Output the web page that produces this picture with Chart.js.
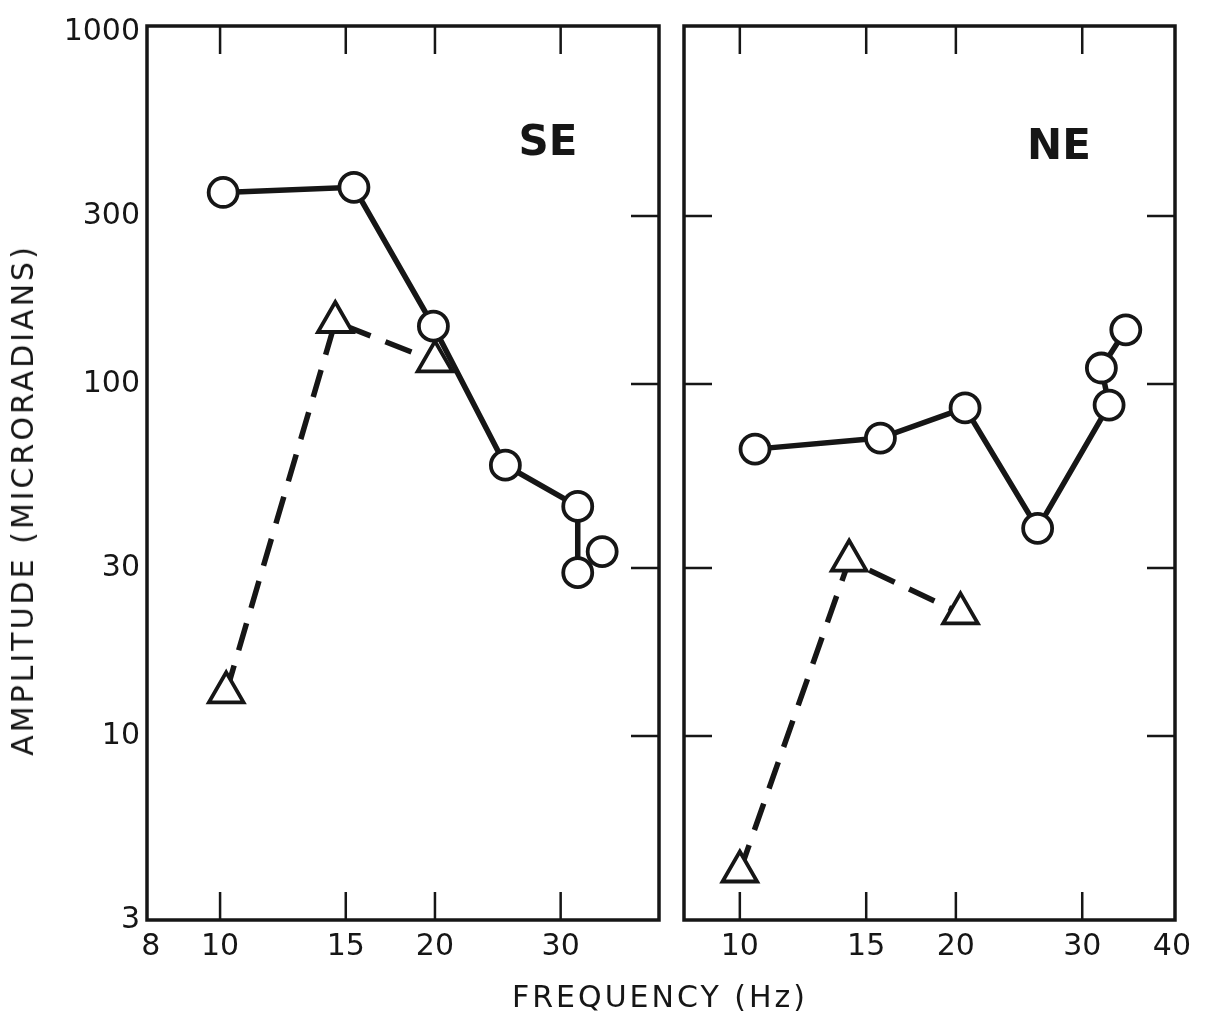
<!DOCTYPE html>
<html>
<head>
<meta charset="utf-8">
<script src="https://cdn.jsdelivr.net/npm/chart.js@4/dist/chart.umd.min.js"></script>
<style>
  body { margin: 0; background: #fff; width: 1209px; height: 1015px; position: relative; overflow: hidden; }
  #left { position: absolute; left: 0; top: 0; }
  #right { position: absolute; left: 670px; top: 0; }
  #ytitle {
    position: absolute; left: 23px; top: 500px; white-space: nowrap;
    transform: translate(-50%, -50%) rotate(-90deg);
    font: 30px "DejaVu Sans"; letter-spacing: 3px; color: #161616; line-height: 30px;
  }
  #xtitle {
    position: absolute; left: 460px; width: 400px; top: 982px; text-align: center;
    font: 30px "DejaVu Sans"; letter-spacing: 3px; color: #161616; line-height: 30px;
  }
</style>
</head>
<body>
<canvas id="left" width="670" height="1015"></canvas>
<canvas id="right" width="539" height="1015"></canvas>
<div id="ytitle">AMPLITUDE (MICRORADIANS)</div>
<div id="xtitle">FREQUENCY (Hz)</div>
<script>
// axis ticks
const yTicks = [3, 10, 30, 100, 300, 1000];
const xTicksSE = [8, 10, 15, 20, 30];
const xTicksNE = [10, 15, 20, 30, 40];
const xMarks = [10, 15, 20, 30];
const yMarks = [10, 30, 100, 300];

// SE panel
const seCircleFreq = [10.1, 15.4, 19.9, 25.1, 31.7, 31.7];
const seCircleAmp = [350, 362, 146, 58.8, 44.9, 29.1];
const seExtraFreq = [34.3];
const seExtraAmp = [33.4];
const seTriFreq = [10.2, 14.5, 20.0];
const seTriAmp = [13.3, 150, 116];

// NE panel
const neCircleFreq = [10.5, 15.7, 20.6, 26.0, 32.7, 31.9, 34.5];
const neCircleAmp = [65.3, 70.2, 85.5, 38.9, 87.1, 111, 142.5];
const neTriFreq = [10.0, 14.2, 20.3];
const neTriAmp = [4.12, 31.5, 22.3];

const ink = '#161616';
const tickFont = { family: 'DejaVu Sans', size: 30 };

const pts = (xs, ys) => xs.map((x, i) => ({ x, y: ys[i] }));

const circles = (data, line = true) => ({
    data,
    showLine: line,
    borderColor: ink,
    borderWidth: 5.5,
    pointStyle: 'circle',
    pointRadius: 14.5,
    pointBorderWidth: 3.8,
    pointBorderColor: ink,
    pointBackgroundColor: '#fff',
    clip: false
});

const triangles = data => ({
    data,
    showLine: true,
    borderColor: ink,
    borderWidth: 5.5,
    borderDash: [28, 16],
    pointStyle: 'triangle',
    pointRadius: 20,
    pointBorderWidth: 3.8,
    pointBorderColor: ink,
    pointBackgroundColor: '#fff',
    clip: false
});

// frame, inward ticks and panel label
function panelFrame(label, dx, dy, leftMarks) {
    return {
        id: 'panelFrame',
        beforeDatasetsDraw(chart) {
            const { ctx, chartArea: a, scales: { x, y } } = chart;
            const len = 28;
            ctx.save();
            ctx.strokeStyle = ink;
            ctx.lineWidth = 2.5;
            ctx.beginPath();
            xMarks.forEach(v => {
                const px = x.getPixelForValue(v);
                ctx.moveTo(px, a.top); ctx.lineTo(px, a.top + len);
                ctx.moveTo(px, a.bottom); ctx.lineTo(px, a.bottom - len);
            });
            yMarks.forEach(v => {
                const py = y.getPixelForValue(v);
                if (leftMarks) { ctx.moveTo(a.left, py); ctx.lineTo(a.left + len, py); }
                ctx.moveTo(a.right, py); ctx.lineTo(a.right - len, py);
            });
            ctx.stroke();
            ctx.lineWidth = 3.5;
            ctx.strokeRect(a.left, a.top, a.right - a.left, a.bottom - a.top);
            ctx.fillStyle = ink;
            ctx.font = 'bold 42px "DejaVu Sans"';
            ctx.textAlign = 'center';
            ctx.textBaseline = 'middle';
            ctx.fillText(label, a.right - dx, a.top + dy);
            ctx.restore();
        }
    };
}

function xScale(min, max, ticks) {
    return {
        type: 'logarithmic', min, max,
        afterBuildTicks: s => { s.ticks = ticks.map(v => ({ value: v })); },
        afterFit: s => { s.height = 95; },
        grid: { display: false, drawTicks: false },
        border: { display: false },
        ticks: { callback: v => String(v), font: tickFont, color: ink, padding: 9, autoSkip: false, maxRotation: 0 }
    };
}

function yScale(show) {
    return {
        type: 'logarithmic', min: 3, max: 1040, display: show,
        afterBuildTicks: s => { s.ticks = yTicks.map(v => ({ value: v })); },
        afterFit: s => { if (show) s.width = 147; },
        grid: { display: false, drawTicks: false },
        border: { display: false },
        ticks: { callback: v => String(v), font: tickFont, color: ink, padding: 7, autoSkip: false }
    };
}

const common = {
    responsive: false,
    animation: false,
    plugins: { legend: { display: false }, tooltip: { enabled: false } }
};

new Chart(document.getElementById('left'), {
    type: 'scatter',
    data: {
        datasets: [
            circles(pts(seCircleFreq, seCircleAmp)),
            circles(pts(seExtraFreq, seExtraAmp), false),
            triangles(pts(seTriFreq, seTriAmp))
        ]
    },
    options: {
        ...common,
        layout: { autoPadding: false, padding: { top: 26, right: 11, left: 0, bottom: 0 } },
        scales: { x: xScale(7.9, 41.2, xTicksSE), y: yScale(true) }
    },
    plugins: [panelFrame('SE', 111, 118, false)]
});

new Chart(document.getElementById('right'), {
    type: 'scatter',
    data: {
        datasets: [
            circles(pts(neCircleFreq, neCircleAmp)),
            triangles(pts(neTriFreq, neTriAmp))
        ]
    },
    options: {
        ...common,
        layout: { autoPadding: false, padding: { top: 26, right: 34, left: 14, bottom: 0 } },
        scales: { x: xScale(8.36, 40.4, xTicksNE), y: yScale(false) }
    },
    plugins: [panelFrame('NE', 116, 122, true)]
});
</script>
</body>
</html>
